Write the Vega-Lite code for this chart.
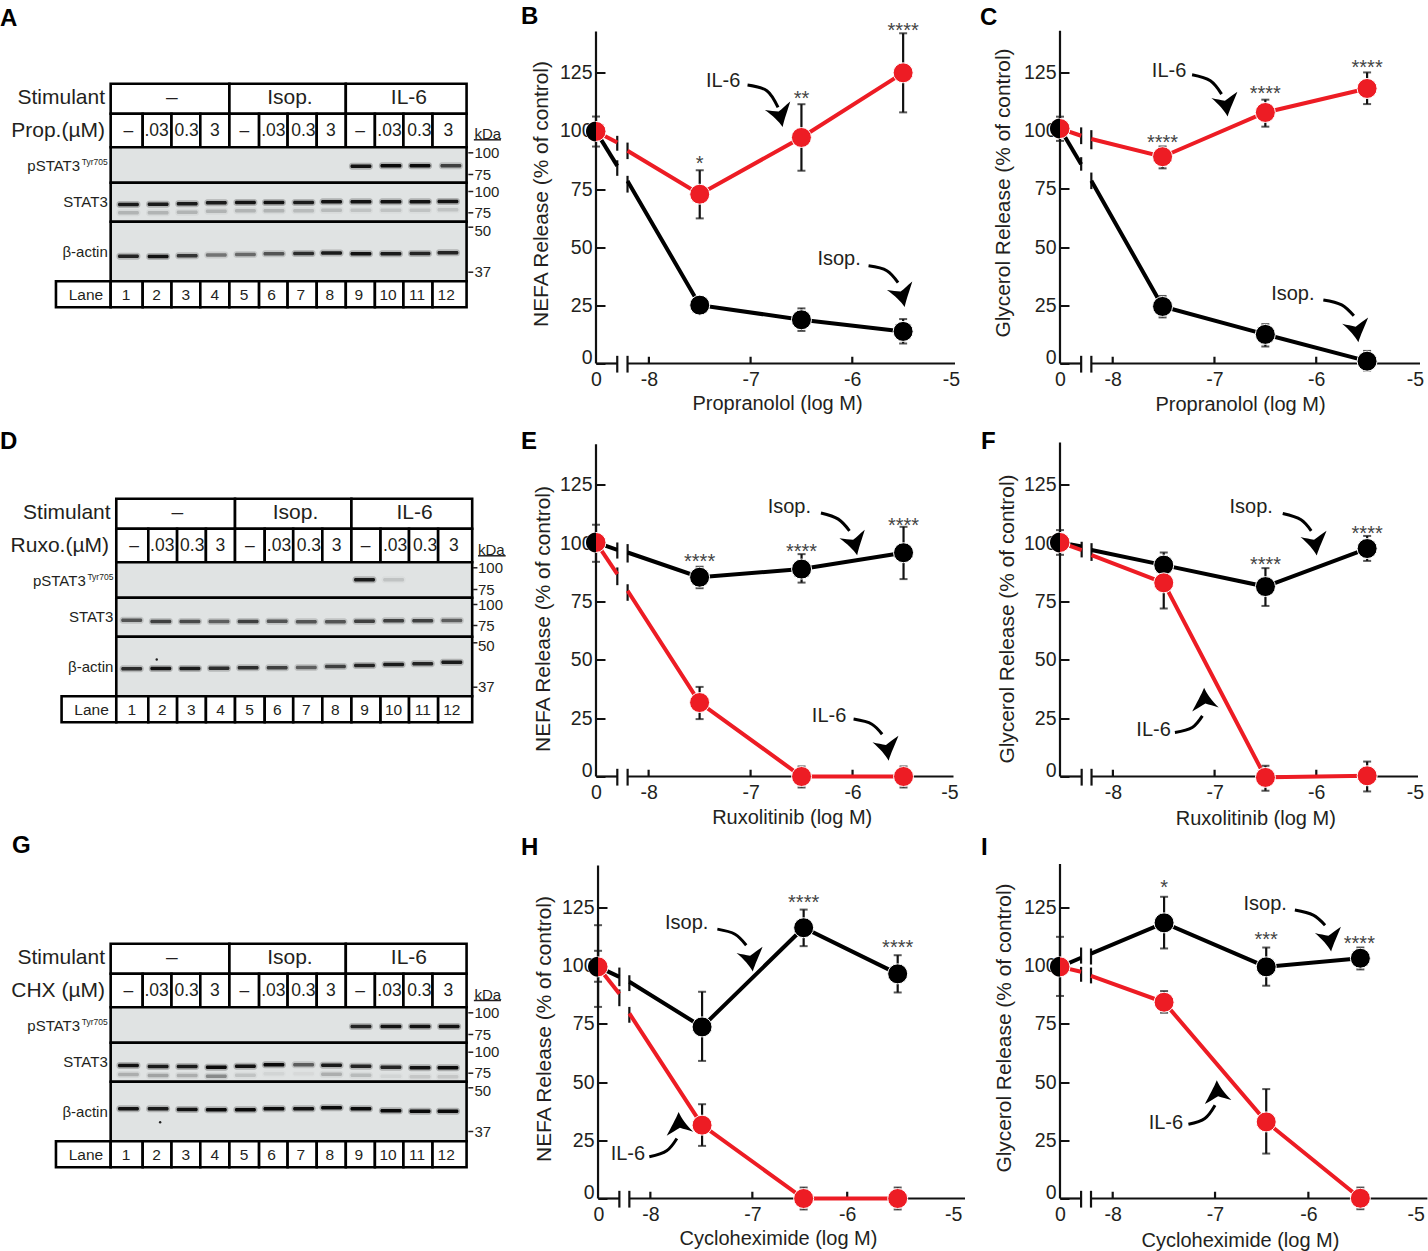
{
  "$schema": "https://vega.github.io/schema/vega-lite/v6.json",
  "background": "white",
  "padding": {"left": 0, "top": 4.5, "right": 0, "bottom": 0},
  "columns": 3,
  "bounds": "flush",
  "spacing": {"row": 70, "column": 95},
  "config": {
    "view": {"stroke": null},
    "axis": {"grid": false, "domain": false, "labelFont": "Liberation Sans", "titleFont": "Liberation Sans", "labelColor": "#231f20", "titleColor": "#231f20", "labelFontSize": 19.5, "titleFontSize": 20, "titleFontWeight": "normal", "labelOverlap": false, "labelFlush": false, "labelBound": false},
    "axisY": {"titleFontSize": 20.9},
    "text": {"font": "Liberation Sans", "color": "#231f20"},
    "title": {"font": "Liberation Sans", "fontSize": 24, "fontWeight": "bold", "color": "#000000", "anchor": "start", "frame": "group", "baseline": "alphabetic"}
  },
  "datasets": {
    "table": [
      {"k":"label","x":0.47,"x2":4.55,"y":0,"y2":30},{"k":"label","x":4.55,"x2":8.55,"y":0,"y2":30},{"k":"label","x":8.55,"x2":12.7,"y":0,"y2":30},
      {"k":"label","x":0.47,"x2":1.57,"y":30,"y2":63.5},{"k":"label","x":1.57,"x2":2.56,"y":30,"y2":63.5},{"k":"label","x":2.56,"x2":3.55,"y":30,"y2":63.5},{"k":"label","x":3.55,"x2":4.55,"y":30,"y2":63.5},
      {"k":"label","x":4.55,"x2":5.57,"y":30,"y2":63.5},{"k":"label","x":5.57,"x2":6.55,"y":30,"y2":63.5},{"k":"label","x":6.55,"x2":7.55,"y":30,"y2":63.5},{"k":"label","x":7.55,"x2":8.55,"y":30,"y2":63.5},
      {"k":"label","x":8.55,"x2":9.55,"y":30,"y2":63.5},{"k":"label","x":9.55,"x2":10.53,"y":30,"y2":63.5},{"k":"label","x":10.53,"x2":11.53,"y":30,"y2":63.5},{"k":"label","x":11.53,"x2":12.7,"y":30,"y2":63.5},
      {"k":"blot","x":0.47,"x2":12.7,"y":63.5,"y2":99},{"k":"blot","x":0.47,"x2":12.7,"y":99,"y2":138},{"k":"blot","x":0.47,"x2":12.7,"y":138,"y2":197.5},
      {"k":"label","x":-1.41,"x2":0.47,"y":197.5,"y2":223.4},
      {"k":"label","x":0.47,"x2":1.57,"y":197.5,"y2":223.4},{"k":"label","x":1.57,"x2":2.56,"y":197.5,"y2":223.4},{"k":"label","x":2.56,"x2":3.55,"y":197.5,"y2":223.4},{"k":"label","x":3.55,"x2":4.55,"y":197.5,"y2":223.4},
      {"k":"label","x":4.55,"x2":5.57,"y":197.5,"y2":223.4},{"k":"label","x":5.57,"x2":6.55,"y":197.5,"y2":223.4},{"k":"label","x":6.55,"x2":7.55,"y":197.5,"y2":223.4},{"k":"label","x":7.55,"x2":8.55,"y":197.5,"y2":223.4},
      {"k":"label","x":8.55,"x2":9.55,"y":197.5,"y2":223.4},{"k":"label","x":9.55,"x2":10.53,"y":197.5,"y2":223.4},{"k":"label","x":10.53,"x2":11.53,"y":197.5,"y2":223.4},{"k":"label","x":11.53,"x2":12.7,"y":197.5,"y2":223.4}
    ],
    "tableText": [
      {"a":"c","c":"head","t":"–","x":2.57,"y":14},{"a":"c","c":"head","t":"Isop.","x":6.63,"y":14},{"a":"c","c":"head","t":"IL-6","x":10.72,"y":14},
      {"a":"c","c":"dose","t":"–","x":1.08,"y":46.7},{"a":"c","c":"dose","t":".03","x":2.05,"y":46.7},{"a":"c","c":"dose","t":"0.3","x":3.08,"y":46.7},{"a":"c","c":"dose","t":"3","x":4.05,"y":46.7},
      {"a":"c","c":"dose","t":"–","x":5.06,"y":46.7},{"a":"c","c":"dose","t":".03","x":6.06,"y":46.7},{"a":"c","c":"dose","t":"0.3","x":7.09,"y":46.7},{"a":"c","c":"dose","t":"3","x":8.04,"y":46.7},
      {"a":"c","c":"dose","t":"–","x":9.04,"y":46.7},{"a":"c","c":"dose","t":".03","x":10.05,"y":46.7},{"a":"c","c":"dose","t":"0.3","x":11.08,"y":46.7},{"a":"c","c":"dose","t":"3","x":12.07,"y":46.7},
      {"a":"c","c":"lane","t":"Lane","x":-0.38,"y":211},
      {"a":"c","c":"lane","t":"1","x":1,"y":211},{"a":"c","c":"lane","t":"2","x":2.05,"y":211},{"a":"c","c":"lane","t":"3","x":3.05,"y":211},{"a":"c","c":"lane","t":"4","x":4.05,"y":211},
      {"a":"c","c":"lane","t":"5","x":5.05,"y":211},{"a":"c","c":"lane","t":"6","x":6,"y":211},{"a":"c","c":"lane","t":"7","x":7,"y":211},{"a":"c","c":"lane","t":"8","x":8,"y":211},
      {"a":"c","c":"lane","t":"9","x":9,"y":211},{"a":"c","c":"lane","t":"10","x":10,"y":211},{"a":"c","c":"lane","t":"11","x":11,"y":211},{"a":"c","c":"lane","t":"12","x":12,"y":211},
      {"a":"r","c":"head","t":"Stimulant","x":0.275,"y":14},
      {"a":"r","c":"name","t":"pSTAT3","x":-0.58,"y":82.4},{"a":"r","c":"sup","t":"Tyr705","x":0.37,"y":78.4},
      {"a":"r","c":"name","t":"STAT3","x":0.37,"y":117.7},{"a":"r","c":"name","t":"β-actin","x":0.37,"y":168.4}
    ],
    "A": [
      {"k":"row2","t":"Prop.(µM)","x":0.275,"y":47},
      {"k":"kda","t":"kDa","x":12.97,"y":50},{"k":"kr","x":12.95,"x2":13.88,"y":56},
      {"k":"kda","t":"100","x":12.97,"y":69},{"k":"kr","x":12.76,"x2":12.93,"y":69},
      {"k":"kda","t":"75","x":12.97,"y":90.7},{"k":"kr","x":12.76,"x2":12.93,"y":90.7},
      {"k":"kda","t":"100","x":12.97,"y":107.7},{"k":"kr","x":12.76,"x2":12.93,"y":107.7},
      {"k":"kda","t":"75","x":12.97,"y":129},{"k":"kr","x":12.76,"x2":12.93,"y":129},
      {"k":"kda","t":"50","x":12.97,"y":146.7},{"k":"kr","x":12.76,"x2":12.93,"y":143.4},
      {"k":"kda","t":"37","x":12.97,"y":188.4},{"k":"kr","x":12.76,"x2":12.93,"y":188.4},
      {"k":"band","x":9.07,"y":82.4,"a":0.95},{"k":"band","x":10.1,"y":82,"a":1},{"k":"band","x":11.1,"y":82,"a":1},{"k":"band","x":12.16,"y":82,"a":0.7},
      {"k":"band","x":1.08,"y":120.7,"a":0.9},{"k":"band","x":2.1,"y":120.5,"a":0.9},{"k":"band","x":3.1,"y":120,"a":0.9},{"k":"band","x":4.1,"y":119,"a":0.9},{"k":"band","x":5.1,"y":118.7,"a":0.95},{"k":"band","x":6.08,"y":118.7,"a":0.95},{"k":"band","x":7.1,"y":118.7,"a":0.9},{"k":"band","x":8.06,"y":118,"a":0.95},{"k":"band","x":9.07,"y":118,"a":0.95},{"k":"band","x":10.1,"y":118,"a":0.95},{"k":"band","x":11.1,"y":118,"a":0.95},{"k":"band","x":12.06,"y":117.7,"a":0.95},
      {"k":"band","x":1.08,"y":129,"a":0.18},{"k":"band","x":2.1,"y":129,"a":0.18},{"k":"band","x":3.1,"y":128.5,"a":0.18},{"k":"band","x":4.1,"y":127.5,"a":0.18},{"k":"band","x":5.1,"y":127,"a":0.18},{"k":"band","x":6.08,"y":127,"a":0.18},{"k":"band","x":7.1,"y":127,"a":0.15},{"k":"band","x":8.06,"y":126.5,"a":0.15},{"k":"band","x":9.07,"y":126.5,"a":0.12},{"k":"band","x":10.1,"y":126.5,"a":0.12},{"k":"band","x":11.1,"y":126.5,"a":0.12},{"k":"band","x":12.06,"y":126,"a":0.12},
      {"k":"band","x":1.08,"y":172.4,"a":0.85},{"k":"band","x":2.1,"y":172.7,"a":0.95},{"k":"band","x":3.1,"y":172,"a":0.75},{"k":"band","x":4.1,"y":171.3,"a":0.45},{"k":"band","x":5.1,"y":170.7,"a":0.5},{"k":"band","x":6.08,"y":170,"a":0.6},{"k":"band","x":7.1,"y":169.7,"a":0.8},{"k":"band","x":8.06,"y":169.3,"a":0.9},{"k":"band","x":9.07,"y":170,"a":0.95},{"k":"band","x":10.1,"y":170,"a":0.9},{"k":"band","x":11.1,"y":169.7,"a":0.85},{"k":"band","x":12.06,"y":169,"a":0.85}
    ],
    "D": [
      {"k":"row2","t":"Ruxo.(µM)","x":0.22,"y":47},
      {"k":"kda","t":"kDa","x":12.9,"y":51},{"k":"kr","x":12.9,"x2":13.85,"y":57},
      {"k":"kda","t":"100","x":12.9,"y":69},{"k":"kr","x":12.73,"x2":12.88,"y":69},
      {"k":"kda","t":"75","x":12.9,"y":90.7},{"k":"kr","x":12.73,"x2":12.88,"y":90.7},
      {"k":"kda","t":"100","x":12.9,"y":105.7},{"k":"kr","x":12.73,"x2":12.88,"y":105.7},
      {"k":"kda","t":"75","x":12.9,"y":126.7},{"k":"kr","x":12.73,"x2":12.88,"y":126.7},
      {"k":"kda","t":"50","x":12.9,"y":147.4},{"k":"kr","x":12.73,"x2":12.88,"y":144},
      {"k":"kda","t":"37","x":12.9,"y":188.4},{"k":"kr","x":12.73,"x2":12.88,"y":188.4},
      {"k":"band","x":9,"y":81,"a":0.9},{"k":"band","x":10,"y":81,"a":0.12},
      {"k":"band","x":1,"y":121.4,"a":0.6},{"k":"band","x":2,"y":122.7,"a":0.7},{"k":"band","x":3,"y":122.7,"a":0.65},{"k":"band","x":4,"y":122.7,"a":0.55},{"k":"band","x":5,"y":122.7,"a":0.7},{"k":"band","x":6,"y":122.4,"a":0.6},{"k":"band","x":7,"y":123,"a":0.6},{"k":"band","x":8,"y":123,"a":0.6},{"k":"band","x":9,"y":122.4,"a":0.7},{"k":"band","x":10,"y":122,"a":0.7},{"k":"band","x":11,"y":122,"a":0.7},{"k":"band","x":12,"y":121.7,"a":0.55},
      {"k":"band","x":1,"y":170,"a":0.8},{"k":"band","x":2,"y":169.7,"a":0.95},{"k":"band","x":3,"y":169.7,"a":0.9},{"k":"band","x":4,"y":169.4,"a":0.8},{"k":"band","x":5,"y":169,"a":0.8},{"k":"band","x":6,"y":169,"a":0.7},{"k":"band","x":7,"y":168.7,"a":0.55},{"k":"band","x":8,"y":167.7,"a":0.7},{"k":"band","x":9,"y":166.7,"a":0.85},{"k":"band","x":10,"y":165.7,"a":0.9},{"k":"band","x":11,"y":165,"a":0.85},{"k":"band","x":12,"y":163.4,"a":0.9},
      {"k":"speck","x":1.86,"y":160.7}
    ],
    "G": [
      {"k":"row2","t":"CHX (µM)","x":0.275,"y":47},
      {"k":"kda","t":"kDa","x":12.97,"y":50.7},{"k":"kr","x":12.95,"x2":13.88,"y":56.7},
      {"k":"kda","t":"100","x":12.97,"y":69},{"k":"kr","x":12.76,"x2":12.93,"y":69},
      {"k":"kda","t":"75","x":12.97,"y":90.7},{"k":"kr","x":12.76,"x2":12.93,"y":90.7},
      {"k":"kda","t":"100","x":12.97,"y":108.4},{"k":"kr","x":12.76,"x2":12.93,"y":108.4},
      {"k":"kda","t":"75","x":12.97,"y":129.4},{"k":"kr","x":12.76,"x2":12.93,"y":129.4},
      {"k":"kda","t":"50","x":12.97,"y":147.4},{"k":"kr","x":12.76,"x2":12.93,"y":144},
      {"k":"kda","t":"37","x":12.97,"y":187.7},{"k":"kr","x":12.76,"x2":12.93,"y":187.7},
      {"k":"band","x":9.07,"y":82.7,"a":0.85},{"k":"band","x":10.1,"y":82.7,"a":0.95},{"k":"band","x":11.1,"y":82.7,"a":0.95},{"k":"band","x":12.1,"y":82.7,"a":0.95},
      {"k":"band","x":1.08,"y":121.7,"a":0.95},{"k":"band","x":2.1,"y":122.7,"a":0.9},{"k":"band","x":3.1,"y":122.7,"a":0.9},{"k":"band","x":4.1,"y":123.4,"a":1},{"k":"band","x":5.1,"y":122.4,"a":0.95},{"k":"band","x":6.08,"y":121,"a":1},{"k":"band","x":7.1,"y":121,"a":0.55},{"k":"band","x":8.06,"y":121.4,"a":0.9},{"k":"band","x":9.07,"y":122.4,"a":0.85},{"k":"band","x":10.1,"y":123.4,"a":0.85},{"k":"band","x":11.1,"y":124,"a":0.95},{"k":"band","x":12.06,"y":124,"a":1},
      {"k":"band","x":1.08,"y":130.7,"a":0.2},{"k":"band","x":2.1,"y":131.7,"a":0.25},{"k":"band","x":3.1,"y":131.7,"a":0.2},{"k":"band","x":4.1,"y":132.4,"a":0.35},{"k":"band","x":5.1,"y":131.4,"a":0.12},{"k":"band","x":6.08,"y":130,"a":0.05},{"k":"band","x":7.1,"y":130,"a":0.03},{"k":"band","x":8.06,"y":130.4,"a":0.2},{"k":"band","x":9.07,"y":131.4,"a":0.15},{"k":"band","x":10.1,"y":132.4,"a":0.05},{"k":"band","x":11.1,"y":133,"a":0.1},{"k":"band","x":12.06,"y":133,"a":0.1},
      {"k":"band","x":1.08,"y":165,"a":0.95},{"k":"band","x":2.1,"y":165,"a":0.9},{"k":"band","x":3.1,"y":165.7,"a":0.95},{"k":"band","x":4.1,"y":166,"a":1},{"k":"band","x":5.1,"y":166,"a":1},{"k":"band","x":6.08,"y":165,"a":1},{"k":"band","x":7.1,"y":165,"a":0.95},{"k":"band","x":8.06,"y":164,"a":1},{"k":"band","x":9.07,"y":165,"a":1},{"k":"band","x":10.1,"y":167,"a":1},{"k":"band","x":11.1,"y":167.4,"a":1},{"k":"band","x":12.06,"y":167.4,"a":1},
      {"k":"speck","x":2.17,"y":178.4}
    ],
    "B": [
      {"k":"v","x":-8.52,"y":0,"y2":142.8},{"k":"v","x":-8,"y":0,"y2":2.9},{"k":"v","x":-7,"y":0,"y2":2.9},{"k":"v","x":-6,"y":0,"y2":2.9},
      {"k":"v","x":-8.311,"y":-3.9,"y2":3.3},{"k":"v","x":-8.21,"y":-3.9,"y2":3.3},
      {"k":"v","x":-8.311,"y":91.5,"y2":97.9},{"k":"v","x":-8.311,"y":80.7,"y2":87.4},{"k":"v","x":-8.21,"y":87.9,"y2":95},{"k":"v","x":-8.21,"y":73.5,"y2":80.7},
      {"k":"h","x":-8.52,"x2":-8.311,"y":0},{"k":"h","x":-8.21,"x2":-4.99,"y":0},
      {"k":"e","x":-8.52,"y":93.3,"y2":106.2},{"k":"e","x":-6.5,"y":14,"y2":23.7},{"k":"e","x":-5.5,"y":8.6,"y2":19.1},
      {"k":"e","x":-7.5,"y":62.4,"y2":83.1},{"k":"e","x":-6.5,"y":82.9,"y2":111.5},{"k":"e","x":-5.5,"y":108,"y2":142},
      {"k":"l","g":"Isop.","s":1,"x":-8.52,"y":99.8},{"k":"l","g":"Isop.","s":1,"x":-8.311,"y":85},
      {"k":"l","g":"Isop.","s":2,"x":-8.21,"y":78.5},{"k":"l","g":"Isop.","s":2,"x":-7.5,"y":25.1},{"k":"l","g":"Isop.","s":2,"x":-6.5,"y":18.8},{"k":"l","g":"Isop.","s":2,"x":-5.5,"y":13.8},
      {"k":"l","g":"IL-6","s":1,"x":-8.52,"y":99.8},{"k":"l","g":"IL-6","s":1,"x":-8.311,"y":95},
      {"k":"l","g":"IL-6","s":2,"x":-8.21,"y":91.5},{"k":"l","g":"IL-6","s":2,"x":-7.5,"y":72.8},{"k":"l","g":"IL-6","s":2,"x":-6.5,"y":97.2},{"k":"l","g":"IL-6","s":2,"x":-5.5,"y":125},
      {"k":"p","g":"Isop.","x":-7.5,"y":25.1},{"k":"p","g":"Isop.","x":-6.5,"y":18.8},{"k":"p","g":"Isop.","x":-5.5,"y":13.8},
      {"k":"p","g":"IL-6","x":-8.52,"y":99.8},{"k":"p","g":"IL-6","x":-7.5,"y":72.8},{"k":"p","g":"IL-6","x":-6.5,"y":97.2},{"k":"p","g":"IL-6","x":-5.5,"y":125},
      {"k":"hb","x":-8.52,"y":99.8},
      {"k":"a","id":1,"x":-7.03,"y":119.8},{"k":"a","id":1,"x":-6.84,"y":117.3},{"k":"a","id":1,"x":-6.73,"y":110.1},
      {"k":"ah","x":-6.72,"y":107.2,"ang":350},
      {"k":"a","id":2,"x":-5.84,"y":42},{"k":"a","id":2,"x":-5.66,"y":39.9},{"k":"a","id":2,"x":-5.55,"y":34.8},
      {"k":"ah","x":-5.52,"y":29.8,"ang":350},
      {"k":"s","t":"*","x":-7.5,"y":88},{"k":"s","t":"**","x":-6.5,"y":116.1},{"k":"s","t":"****","x":-5.5,"y":145.2},
      {"k":"t","t":"IL-6","x":-7.27,"y":121.6},{"k":"t","t":"Isop.","x":-6.13,"y":44.9}
    ],
    "C": [
      {"k":"v","x":-8.518,"y":0,"y2":142.9},{"k":"v","x":-8,"y":0,"y2":2.9},{"k":"v","x":-7,"y":0,"y2":2.9},{"k":"v","x":-6,"y":0,"y2":2.9},
      {"k":"v","x":-8.31,"y":-3.9,"y2":3.3},{"k":"v","x":-8.21,"y":-3.9,"y2":3.3},
      {"k":"v","x":-8.31,"y":94.2,"y2":101.4},{"k":"v","x":-8.31,"y":82.8,"y2":88.6},{"k":"v","x":-8.21,"y":92,"y2":100.2},{"k":"v","x":-8.21,"y":74.9,"y2":82},
      {"k":"h","x":-8.518,"x2":-8.31,"y":0},{"k":"h","x":-8.21,"x2":-4.98,"y":0},
      {"k":"e","x":-8.518,"y":95.6,"y2":106},{"k":"e","x":-7.51,"y":19.8,"y2":29},{"k":"e","x":-6.5,"y":7.3,"y2":16.9},{"k":"e","x":-5.5,"y":-3,"y2":5.4},
      {"k":"e","x":-7.51,"y":83.8,"y2":93.2},{"k":"e","x":-6.5,"y":101.7,"y2":113.3},{"k":"e","x":-5.5,"y":111.4,"y2":125},
      {"k":"l","g":"Isop.","s":1,"x":-8.518,"y":100.9},{"k":"l","g":"Isop.","s":1,"x":-8.31,"y":85.6},
      {"k":"l","g":"Isop.","s":2,"x":-8.21,"y":78.5},{"k":"l","g":"Isop.","s":2,"x":-7.51,"y":24.5},{"k":"l","g":"Isop.","s":2,"x":-6.5,"y":12.5},{"k":"l","g":"Isop.","s":2,"x":-5.5,"y":1},
      {"k":"l","g":"IL-6","s":1,"x":-8.518,"y":100.9},{"k":"l","g":"IL-6","s":1,"x":-8.31,"y":97.8},
      {"k":"l","g":"IL-6","s":2,"x":-8.21,"y":96.4},{"k":"l","g":"IL-6","s":2,"x":-7.51,"y":88.8},{"k":"l","g":"IL-6","s":2,"x":-6.5,"y":107.8},{"k":"l","g":"IL-6","s":2,"x":-5.5,"y":118.1},
      {"k":"p","g":"Isop.","x":-7.51,"y":24.5},{"k":"p","g":"Isop.","x":-6.5,"y":12.5},{"k":"p","g":"Isop.","x":-5.5,"y":1},
      {"k":"p","g":"IL-6","x":-8.518,"y":100.9},{"k":"p","g":"IL-6","x":-7.51,"y":88.8},{"k":"p","g":"IL-6","x":-6.5,"y":107.8},{"k":"p","g":"IL-6","x":-5.5,"y":118.1},
      {"k":"hb","x":-8.518,"y":100.9},
      {"k":"a","id":1,"x":-7.22,"y":124},{"k":"a","id":1,"x":-7.04,"y":121.4},{"k":"a","id":1,"x":-6.93,"y":115.7},
      {"k":"ah","x":-6.895,"y":111.7,"ang":355},
      {"k":"a","id":2,"x":-5.93,"y":27.3},{"k":"a","id":2,"x":-5.75,"y":25.2},{"k":"a","id":2,"x":-5.63,"y":20.5},
      {"k":"ah","x":-5.61,"y":14.7,"ang":355},
      {"k":"s","t":"****","x":-7.51,"y":97.1},{"k":"s","t":"****","x":-6.5,"y":118.1},{"k":"s","t":"****","x":-5.5,"y":129.3},
      {"k":"t","t":"IL-6","x":-7.446,"y":125.4},{"k":"t","t":"Isop.","x":-6.23,"y":29.8}
    ],
    "E": [
      {"k":"v","x":-8.516,"y":0,"y2":142.4},{"k":"v","x":-8,"y":0,"y2":2.9},{"k":"v","x":-7,"y":0,"y2":2.9},{"k":"v","x":-6,"y":0,"y2":2.9},
      {"k":"v","x":-8.307,"y":-3.9,"y2":3.3},{"k":"v","x":-8.206,"y":-3.9,"y2":3.3},
      {"k":"v","x":-8.307,"y":93.4,"y2":100.3},{"k":"v","x":-8.307,"y":82,"y2":89.6},{"k":"v","x":-8.206,"y":91.7,"y2":99.6},{"k":"v","x":-8.206,"y":75.3,"y2":82.4},
      {"k":"h","x":-8.516,"x2":-8.307,"y":0},{"k":"h","x":-8.206,"x2":-5.01,"y":0},
      {"k":"e","x":-8.516,"y":92,"y2":107.9},{"k":"e","x":-7.5,"y":80.7,"y2":89.9},{"k":"e","x":-6.5,"y":83.1,"y2":95.3},{"k":"e","x":-5.5,"y":84.6,"y2":107},
      {"k":"e","x":-7.5,"y":24.6,"y2":38.4},{"k":"e","x":-6.5,"y":-4.7,"y2":4.3},{"k":"e","x":-5.5,"y":-4.7,"y2":4.3},
      {"k":"l","g":"Isop.","s":1,"x":-8.516,"y":100.3},{"k":"l","g":"Isop.","s":1,"x":-8.307,"y":97.1},
      {"k":"l","g":"Isop.","s":2,"x":-8.206,"y":96},{"k":"l","g":"Isop.","s":2,"x":-7.5,"y":85.4},{"k":"l","g":"Isop.","s":2,"x":-6.5,"y":88.9},{"k":"l","g":"Isop.","s":2,"x":-5.5,"y":95.9},
      {"k":"l","g":"IL-6","s":1,"x":-8.516,"y":100.3},{"k":"l","g":"IL-6","s":1,"x":-8.307,"y":86.7},
      {"k":"l","g":"IL-6","s":2,"x":-8.206,"y":79.6},{"k":"l","g":"IL-6","s":2,"x":-7.5,"y":31.7},{"k":"l","g":"IL-6","s":2,"x":-6.5,"y":0},{"k":"l","g":"IL-6","s":2,"x":-5.5,"y":0},
      {"k":"p","g":"Isop.","x":-7.5,"y":85.4},{"k":"p","g":"Isop.","x":-6.5,"y":88.9},{"k":"p","g":"Isop.","x":-5.5,"y":95.9},
      {"k":"p","g":"IL-6","x":-8.516,"y":100.3},{"k":"p","g":"IL-6","x":-7.5,"y":31.7},{"k":"p","g":"IL-6","x":-6.5,"y":0},{"k":"p","g":"IL-6","x":-5.5,"y":0},
      {"k":"hb","x":-8.516,"y":100.3},
      {"k":"a","id":1,"x":-6.31,"y":112.9},{"k":"a","id":1,"x":-6.14,"y":110.3},{"k":"a","id":1,"x":-6.03,"y":105.3},
      {"k":"ah","x":-5.99,"y":100.3,"ang":350},
      {"k":"a","id":2,"x":-5.99,"y":24.6},{"k":"a","id":2,"x":-5.81,"y":22.4},{"k":"a","id":2,"x":-5.71,"y":18.1},
      {"k":"ah","x":-5.67,"y":12.4,"ang":355},
      {"k":"s","t":"****","x":-7.5,"y":94.3},{"k":"s","t":"****","x":-6.5,"y":98.6},{"k":"s","t":"****","x":-5.5,"y":109.6},
      {"k":"t","t":"Isop.","x":-6.62,"y":115.7},{"k":"t","t":"IL-6","x":-6.23,"y":26}
    ],
    "F": [
      {"k":"v","x":-8.52,"y":0,"y2":143.1},{"k":"v","x":-8,"y":0,"y2":2.9},{"k":"v","x":-7,"y":0,"y2":2.9},{"k":"v","x":-6,"y":0,"y2":2.9},
      {"k":"v","x":-8.307,"y":-3.9,"y2":3.3},{"k":"v","x":-8.21,"y":-3.9,"y2":3.3},
      {"k":"v","x":-8.307,"y":93.9,"y2":100.6},{"k":"v","x":-8.21,"y":92.4,"y2":100},
      {"k":"h","x":-8.52,"x2":-8.307,"y":0},{"k":"h","x":-8.21,"x2":-5,"y":0},
      {"k":"e","x":-8.52,"y":95,"y2":105.6},{"k":"e","x":-7.5,"y":85,"y2":96},{"k":"e","x":-6.5,"y":73.1,"y2":89.3},{"k":"e","x":-5.5,"y":92.4,"y2":103.1},
      {"k":"e","x":-7.5,"y":72,"y2":83},{"k":"e","x":-6.5,"y":-6.1,"y2":4.6},{"k":"e","x":-5.5,"y":-6.4,"y2":6.4},
      {"k":"l","g":"Isop.","s":1,"x":-8.52,"y":100.3},{"k":"l","g":"Isop.","s":1,"x":-8.307,"y":98.6},
      {"k":"l","g":"Isop.","s":2,"x":-8.21,"y":97.1},{"k":"l","g":"Isop.","s":2,"x":-7.5,"y":90.6},{"k":"l","g":"Isop.","s":2,"x":-6.5,"y":81.4},{"k":"l","g":"Isop.","s":2,"x":-5.5,"y":97.7},
      {"k":"l","g":"IL-6","s":1,"x":-8.52,"y":100.3},{"k":"l","g":"IL-6","s":1,"x":-8.307,"y":97},
      {"k":"l","g":"IL-6","s":2,"x":-8.21,"y":94.9},{"k":"l","g":"IL-6","s":2,"x":-7.5,"y":83},{"k":"l","g":"IL-6","s":2,"x":-6.5,"y":-0.4},{"k":"l","g":"IL-6","s":2,"x":-5.5,"y":0.3},
      {"k":"p","g":"Isop.","x":-7.5,"y":90.6},{"k":"p","g":"Isop.","x":-6.5,"y":81.4},{"k":"p","g":"Isop.","x":-5.5,"y":97.7},
      {"k":"p","g":"IL-6","x":-8.52,"y":100.3},{"k":"p","g":"IL-6","x":-7.5,"y":83},{"k":"p","g":"IL-6","x":-6.5,"y":-0.4},{"k":"p","g":"IL-6","x":-5.5,"y":0.3},
      {"k":"hb","x":-8.52,"y":100.3},
      {"k":"a","id":1,"x":-6.33,"y":112.7},{"k":"a","id":1,"x":-6.15,"y":110},{"k":"a","id":1,"x":-6.05,"y":105.3},
      {"k":"ah","x":-6.02,"y":100.3,"ang":355},
      {"k":"a","id":2,"x":-7.39,"y":18.9},{"k":"a","id":2,"x":-7.22,"y":21},{"k":"a","id":2,"x":-7.12,"y":26},
      {"k":"ah","x":-7.09,"y":32.4,"ang":180},
      {"k":"s","t":"****","x":-6.5,"y":92.9},{"k":"s","t":"****","x":-5.5,"y":106.4},
      {"k":"t","t":"Isop.","x":-6.64,"y":115.3},{"k":"t","t":"IL-6","x":-7.6,"y":20}
    ],
    "H": [
      {"k":"v","x":-8.513,"y":0,"y2":143},{"k":"v","x":-8,"y":0,"y2":2.9},{"k":"v","x":-7,"y":0,"y2":2.9},{"k":"v","x":-6.07,"y":0,"y2":2.9},
      {"k":"v","x":-8.304,"y":-3.9,"y2":3.3},{"k":"v","x":-8.206,"y":-3.9,"y2":3.3},
      {"k":"v","x":-8.304,"y":91.2,"y2":99.2},{"k":"v","x":-8.304,"y":82.6,"y2":89.8},{"k":"v","x":-8.206,"y":89.1,"y2":95.9},{"k":"v","x":-8.206,"y":75.5,"y2":82.3},
      {"k":"h","x":-8.513,"x2":-8.304,"y":0},{"k":"h","x":-8.206,"x2":-4.915,"y":0},
      {"k":"e","x":-8.513,"y":93.1,"y2":106.4},{"k":"e","x":-7.493,"y":59.1,"y2":88.8},{"k":"e","x":-6.497,"y":108.4,"y2":124.1},{"k":"e","x":-5.575,"y":88.5,"y2":104.5},
      {"k":"e","x":-8.513,"y":82.3,"y2":117.4},{"k":"e","x":-7.493,"y":22.6,"y2":40.5},{"k":"e","x":-6.497,"y":-4.7,"y2":4.7},{"k":"e","x":-5.575,"y":-4.7,"y2":4.7},
      {"k":"l","g":"Isop.","s":1,"x":-8.513,"y":99.5},{"k":"l","g":"Isop.","s":1,"x":-8.304,"y":95.2},
      {"k":"l","g":"Isop.","s":2,"x":-8.206,"y":93.1},{"k":"l","g":"Isop.","s":2,"x":-7.493,"y":73.7},{"k":"l","g":"Isop.","s":2,"x":-6.497,"y":116.3},{"k":"l","g":"Isop.","s":2,"x":-5.575,"y":96.5},
      {"k":"l","g":"IL-6","s":1,"x":-8.513,"y":99.5},{"k":"l","g":"IL-6","s":1,"x":-8.304,"y":88},
      {"k":"l","g":"IL-6","s":2,"x":-8.206,"y":79.5},{"k":"l","g":"IL-6","s":2,"x":-7.493,"y":31.5},{"k":"l","g":"IL-6","s":2,"x":-6.497,"y":0},{"k":"l","g":"IL-6","s":2,"x":-5.575,"y":0},
      {"k":"p","g":"Isop.","x":-7.493,"y":73.7},{"k":"p","g":"Isop.","x":-6.497,"y":116.3},{"k":"p","g":"Isop.","x":-5.575,"y":96.5},
      {"k":"p","g":"IL-6","x":-8.513,"y":99.5},{"k":"p","g":"IL-6","x":-7.493,"y":31.5},{"k":"p","g":"IL-6","x":-6.497,"y":0},{"k":"p","g":"IL-6","x":-5.575,"y":0},
      {"k":"hb","x":-8.513,"y":99.5},
      {"k":"a","id":1,"x":-7.343,"y":115.7},{"k":"a","id":1,"x":-7.17,"y":113.5},{"k":"a","id":1,"x":-7.06,"y":108.8},
      {"k":"ah","x":-7.02,"y":103.1,"ang":355},
      {"k":"a","id":2,"x":-8.01,"y":17.9},{"k":"a","id":2,"x":-7.84,"y":20.5},{"k":"a","id":2,"x":-7.74,"y":25.8},
      {"k":"ah","x":-7.71,"y":31.5,"ang":180},
      {"k":"s","t":"****","x":-6.497,"y":129.3},{"k":"s","t":"****","x":-5.575,"y":109.8},
      {"k":"t","t":"Isop.","x":-7.644,"y":118.4},{"k":"t","t":"IL-6","x":-8.22,"y":19}
    ],
    "I": [
      {"k":"v","x":-8.515,"y":0,"y2":143.7},{"k":"v","x":-8,"y":0,"y2":2.9},{"k":"v","x":-7,"y":0,"y2":2.9},{"k":"v","x":-6.088,"y":0,"y2":2.9},
      {"k":"v","x":-8.309,"y":-3.9,"y2":3.3},{"k":"v","x":-8.212,"y":-3.9,"y2":3.3},
      {"k":"v","x":-8.309,"y":100.9,"y2":107.8},{"k":"v","x":-8.309,"y":93.1,"y2":99.5},{"k":"v","x":-8.212,"y":100.5,"y2":107.4},{"k":"v","x":-8.212,"y":92.4,"y2":99.2},
      {"k":"h","x":-8.515,"x2":-8.309,"y":0},{"k":"h","x":-8.212,"x2":-4.925,"y":0},
      {"k":"e","x":-7.498,"y":107.4,"y2":129.6},{"k":"e","x":-6.5,"y":91.4,"y2":107.8},{"k":"e","x":-5.58,"y":98.4,"y2":107.8},
      {"k":"e","x":-8.515,"y":87,"y2":112.4},{"k":"e","x":-7.498,"y":79.8,"y2":89.1},{"k":"e","x":-6.5,"y":19.3,"y2":47},{"k":"e","x":-5.58,"y":-4.6,"y2":4.7},
      {"k":"l","g":"Isop.","s":1,"x":-8.515,"y":99.5},{"k":"l","g":"Isop.","s":1,"x":-8.309,"y":103.4},
      {"k":"l","g":"Isop.","s":2,"x":-8.212,"y":105.2},{"k":"l","g":"Isop.","s":2,"x":-7.498,"y":118.4},{"k":"l","g":"Isop.","s":2,"x":-6.5,"y":99.5},{"k":"l","g":"Isop.","s":2,"x":-5.58,"y":103.2},
      {"k":"l","g":"IL-6","s":1,"x":-8.515,"y":99.5},{"k":"l","g":"IL-6","s":1,"x":-8.309,"y":97.4},
      {"k":"l","g":"IL-6","s":2,"x":-8.212,"y":95.6},{"k":"l","g":"IL-6","s":2,"x":-7.498,"y":84.3},{"k":"l","g":"IL-6","s":2,"x":-6.5,"y":32.9},{"k":"l","g":"IL-6","s":2,"x":-5.58,"y":0.1},
      {"k":"p","g":"Isop.","x":-7.498,"y":118.4},{"k":"p","g":"Isop.","x":-6.5,"y":99.5},{"k":"p","g":"Isop.","x":-5.58,"y":103.2},
      {"k":"p","g":"IL-6","x":-8.515,"y":99.5},{"k":"p","g":"IL-6","x":-7.498,"y":84.3},{"k":"p","g":"IL-6","x":-6.5,"y":32.9},{"k":"p","g":"IL-6","x":-5.58,"y":0.1},
      {"k":"hb","x":-8.515,"y":99.5},
      {"k":"a","id":1,"x":-6.22,"y":123.9},{"k":"a","id":1,"x":-6.04,"y":121.7},{"k":"a","id":1,"x":-5.925,"y":117.4},
      {"k":"ah","x":-5.89,"y":111.7,"ang":355},
      {"k":"a","id":2,"x":-7.26,"y":31.9},{"k":"a","id":2,"x":-7.1,"y":34.4},{"k":"a","id":2,"x":-7,"y":40.1},
      {"k":"ah","x":-6.97,"y":45.1,"ang":180},
      {"k":"s","t":"*","x":-7.498,"y":135.6},{"k":"s","t":"***","x":-6.5,"y":113.5},{"k":"s","t":"****","x":-5.59,"y":111.7},
      {"k":"t","t":"Isop.","x":-6.51,"y":126.7},{"k":"t","t":"IL-6","x":-7.48,"y":32.6}
    ]
  },
  "concat": [
    {
      "title": {"text": "A", "dx": 0, "offset": 0},
      "width": 501, "height": 333,
      "data": {"name": "A"},
      "resolve": {"scale": {"opacity": "independent"}},
      "encoding": {
        "x": {"field": "x", "type": "quantitative", "scale": {"domain": [-3.333, 13.883], "nice": false, "zero": false}, "axis": null},
        "y": {"field": "y", "type": "quantitative", "scale": {"domain": [279.7, -53.3], "nice": false, "zero": false}, "axis": null}
      },
      "layer": [
        {"data": {"name": "table"}, "mark": {"type": "rect", "stroke": "#000000", "strokeWidth": 2.6}, "encoding": {"x2": {"field": "x2"}, "y2": {"field": "y2"}, "fill": {"field": "k", "type": "nominal", "scale": {"domain": ["label", "blot"], "range": ["#ffffff", "#e0e3e3"]}, "legend": null}}},
        {"transform": [{"filter": "datum.k=='band'"}], "mark": {"type": "tick", "orient": "horizontal", "size": 24, "thickness": 7, "color": "#333333", "cornerRadius": 3}, "encoding": {"opacity": {"field": "a", "type": "quantitative", "scale": {"domain": [0, 1], "range": [0, 0.3]}, "legend": null}}},
        {"transform": [{"filter": "datum.k=='band'"}], "mark": {"type": "tick", "orient": "horizontal", "size": 21, "thickness": 3.5, "color": "#0a0a0a", "cornerRadius": 1.5}, "encoding": {"opacity": {"field": "a", "type": "quantitative", "scale": {"domain": [0, 1], "range": [0, 1]}, "legend": null}}},
        {"transform": [{"filter": "datum.k=='speck'"}], "mark": {"type": "circle", "size": 6, "color": "#222222", "opacity": 1}},
        {"data": {"name": "tableText"}, "transform": [{"filter": "datum.a=='c'"}], "mark": {"type": "text", "align": "center", "baseline": "middle"}, "encoding": {"text": {"field": "t"}, "size": {"field": "c", "type": "nominal", "scale": {"type": "ordinal", "domain": ["head", "dose", "lane", "name", "sup"], "range": [21, 17.5, 15.5, 15, 8.5]}, "legend": null}}},
        {"data": {"name": "tableText"}, "transform": [{"filter": "datum.a=='r'"}], "mark": {"type": "text", "align": "right", "baseline": "middle"}, "encoding": {"text": {"field": "t"}, "size": {"field": "c", "type": "nominal", "scale": {"type": "ordinal", "domain": ["head", "dose", "lane", "name", "sup"], "range": [21, 17.5, 15.5, 15, 8.5]}, "legend": null}}},
        {"transform": [{"filter": "datum.k=='row2'"}], "mark": {"type": "text", "align": "right", "baseline": "middle", "fontSize": 21}, "encoding": {"text": {"field": "t"}}},
        {"transform": [{"filter": "datum.k=='kda'"}], "mark": {"type": "text", "align": "left", "baseline": "middle", "fontSize": 15}, "encoding": {"text": {"field": "t"}}},
        {"transform": [{"filter": "datum.k=='kr'"}], "mark": {"type": "rule", "strokeWidth": 1.5, "color": "#231f20"}, "encoding": {"x2": {"field": "x2"}}}
      ]
    },
    {
      "title": {"text": "B", "dx": -75, "offset": -8},
      "width": 359, "height": 333,
      "data": {"name": "B"},
      "encoding": {
        "x": {"field": "x", "type": "quantitative", "scale": {"domain": [-8.52, -4.99], "nice": false, "zero": false}, "axis": {"title": "Propranolol (log M)", "titleX": 181, "titleY": 40, "titleBaseline": "middle", "values": [-8.52, -8, -7, -6, -5.03], "labelExpr": "datum.value<-8.2?'0':''+round(datum.value)", "ticks": false, "labelPadding": 7}},
        "y": {"field": "y", "type": "quantitative", "scale": {"domain": [0, 143.2], "nice": false, "zero": false}, "axis": {"title": "NEFA Release (% of control)", "titleX": -55, "titleY": 163, "titleBaseline": "middle", "values": [0, 25, 50, 75, 100, 125], "tickSize": -9, "tickWidth": 2, "tickColor": "#111111", "labelPadding": 13, "labelOffset": {"condition": {"test": "datum.value===0", "value": -6.5}, "value": 0}}}
      },
      "layer": [
        {"transform": [{"filter": "datum.k=='v'||datum.k=='e'"}], "mark": {"type": "rule", "strokeWidth": 2.2, "color": "#111111"}, "encoding": {"y2": {"field": "y2"}}},
        {"transform": [{"filter": "datum.k=='h'"}], "mark": {"type": "rule", "strokeWidth": 2.2, "color": "#111111"}, "encoding": {"x2": {"field": "x2"}}},
        {"transform": [{"filter": "datum.k=='e'"}], "mark": {"type": "tick", "orient": "horizontal", "size": 8, "thickness": 2, "color": "#111111"}},
        {"transform": [{"filter": "datum.k=='e'"}], "mark": {"type": "tick", "orient": "horizontal", "size": 8, "thickness": 2, "color": "#111111"}, "encoding": {"y": {"field": "y2", "type": "quantitative"}}},
        {"transform": [{"filter": "datum.k=='l'"}], "mark": {"type": "line", "strokeWidth": 4}, "encoding": {"color": {"field": "g", "type": "nominal", "scale": {"domain": ["IL-6", "Isop."], "range": ["#ed1c24", "#000000"]}, "legend": null}, "detail": {"field": "s"}}},
        {"transform": [{"filter": "datum.k=='p'"}], "mark": {"type": "circle", "size": 400, "opacity": 1, "stroke": "#ffffff", "strokeWidth": 1}, "encoding": {"color": {"field": "g", "type": "nominal", "scale": {"domain": ["IL-6", "Isop."], "range": ["#ed1c24", "#000000"]}, "legend": null}}},
        {"transform": [{"filter": "datum.k=='hb'"}], "mark": {"type": "point", "shape": "M0,-1 A1,1 0 0 0 0,1 Z", "size": 400, "filled": true, "opacity": 1, "color": "#000000"}},
        {"transform": [{"filter": "datum.k=='a'"}], "mark": {"type": "line", "interpolate": "catmull-rom", "strokeWidth": 3, "color": "#000000"}, "encoding": {"detail": {"field": "id"}}},
        {"transform": [{"filter": "datum.k=='ah'"}], "mark": {"type": "point", "shape": "M0.1,1 C-0.1,0.55 -0.5,0 -1,-0.5 C-0.6,-0.35 -0.3,-0.3 0,-0.2 C0.3,-0.35 0.6,-0.6 1,-0.8 C0.7,-0.2 0.3,0.5 0.1,1 Z", "size": 700, "filled": true, "opacity": 1, "color": "#000000"}, "encoding": {"angle": {"field": "ang", "type": "quantitative", "scale": null}}},
        {"transform": [{"filter": "datum.k=='s'"}], "mark": {"type": "text", "fontSize": 20, "baseline": "alphabetic", "dy": 11.6, "color": "#444444"}, "encoding": {"text": {"field": "t"}}},
        {"transform": [{"filter": "datum.k=='t'"}], "mark": {"type": "text", "fontSize": 20, "baseline": "middle"}, "encoding": {"text": {"field": "t"}}}
      ]
    },
    {
      "title": {"text": "C", "dx": -80, "offset": 0},
      "width": 360, "height": 333,
      "data": {"name": "C"},
      "encoding": {
        "x": {"field": "x", "type": "quantitative", "scale": {"domain": [-8.518, -4.98], "nice": false, "zero": false}, "axis": {"title": "Propranolol (log M)", "titleX": 180, "titleY": 41, "titleBaseline": "middle", "values": [-8.518, -8, -7, -6, -5.03], "labelExpr": "datum.value<-8.2?'0':''+round(datum.value)", "ticks": false, "labelPadding": 7}},
        "y": {"field": "y", "type": "quantitative", "scale": {"domain": [0, 143], "nice": false, "zero": false}, "axis": {"title": "Glycerol Release (% of control)", "titleX": -57, "titleY": 162, "titleBaseline": "middle", "values": [0, 25, 50, 75, 100, 125], "tickSize": -9, "tickWidth": 2, "tickColor": "#111111", "labelPadding": 13, "labelOffset": {"condition": {"test": "datum.value===0", "value": -6.5}, "value": 0}}}
      },
      "layer": [
        {"transform": [{"filter": "datum.k=='v'||datum.k=='e'"}], "mark": {"type": "rule", "strokeWidth": 2.2, "color": "#111111"}, "encoding": {"y2": {"field": "y2"}}},
        {"transform": [{"filter": "datum.k=='h'"}], "mark": {"type": "rule", "strokeWidth": 2.2, "color": "#111111"}, "encoding": {"x2": {"field": "x2"}}},
        {"transform": [{"filter": "datum.k=='e'"}], "mark": {"type": "tick", "orient": "horizontal", "size": 8, "thickness": 2, "color": "#111111"}},
        {"transform": [{"filter": "datum.k=='e'"}], "mark": {"type": "tick", "orient": "horizontal", "size": 8, "thickness": 2, "color": "#111111"}, "encoding": {"y": {"field": "y2", "type": "quantitative"}}},
        {"transform": [{"filter": "datum.k=='l'"}], "mark": {"type": "line", "strokeWidth": 4}, "encoding": {"color": {"field": "g", "type": "nominal", "scale": {"domain": ["IL-6", "Isop."], "range": ["#ed1c24", "#000000"]}, "legend": null}, "detail": {"field": "s"}}},
        {"transform": [{"filter": "datum.k=='p'"}], "mark": {"type": "circle", "size": 400, "opacity": 1, "stroke": "#ffffff", "strokeWidth": 1}, "encoding": {"color": {"field": "g", "type": "nominal", "scale": {"domain": ["IL-6", "Isop."], "range": ["#ed1c24", "#000000"]}, "legend": null}}},
        {"transform": [{"filter": "datum.k=='hb'"}], "mark": {"type": "point", "shape": "M0,-1 A1,1 0 0 0 0,1 Z", "size": 400, "filled": true, "opacity": 1, "color": "#000000"}},
        {"transform": [{"filter": "datum.k=='a'"}], "mark": {"type": "line", "interpolate": "catmull-rom", "strokeWidth": 3, "color": "#000000"}, "encoding": {"detail": {"field": "id"}}},
        {"transform": [{"filter": "datum.k=='ah'"}], "mark": {"type": "point", "shape": "M0.1,1 C-0.1,0.55 -0.5,0 -1,-0.5 C-0.6,-0.35 -0.3,-0.3 0,-0.2 C0.3,-0.35 0.6,-0.6 1,-0.8 C0.7,-0.2 0.3,0.5 0.1,1 Z", "size": 700, "filled": true, "opacity": 1, "color": "#000000"}, "encoding": {"angle": {"field": "ang", "type": "quantitative", "scale": null}}},
        {"transform": [{"filter": "datum.k=='s'"}], "mark": {"type": "text", "fontSize": 20, "baseline": "alphabetic", "dy": 11.6, "color": "#444444"}, "encoding": {"text": {"field": "t"}}},
        {"transform": [{"filter": "datum.k=='t'"}], "mark": {"type": "text", "fontSize": 20, "baseline": "middle"}, "encoding": {"text": {"field": "t"}}}
      ]
    },
    {
      "title": {"text": "D", "dx": 0, "offset": -20},
      "width": 501, "height": 343,
      "data": {"name": "D"},
      "resolve": {"scale": {"opacity": "independent"}},
      "encoding": {
        "x": {"field": "x", "type": "quantitative", "scale": {"domain": [-3.526, 13.69], "nice": false, "zero": false}, "axis": null},
        "y": {"field": "y", "type": "quantitative", "scale": {"domain": [277.7, -65.3], "nice": false, "zero": false}, "axis": null}
      },
      "layer": [
        {"data": {"name": "table"}, "mark": {"type": "rect", "stroke": "#000000", "strokeWidth": 2.6}, "encoding": {"x2": {"field": "x2"}, "y2": {"field": "y2"}, "fill": {"field": "k", "type": "nominal", "scale": {"domain": ["label", "blot"], "range": ["#ffffff", "#e0e3e3"]}, "legend": null}}},
        {"transform": [{"filter": "datum.k=='band'"}], "mark": {"type": "tick", "orient": "horizontal", "size": 24, "thickness": 7, "color": "#333333", "cornerRadius": 3}, "encoding": {"opacity": {"field": "a", "type": "quantitative", "scale": {"domain": [0, 1], "range": [0, 0.3]}, "legend": null}}},
        {"transform": [{"filter": "datum.k=='band'"}], "mark": {"type": "tick", "orient": "horizontal", "size": 21, "thickness": 3.5, "color": "#0a0a0a", "cornerRadius": 1.5}, "encoding": {"opacity": {"field": "a", "type": "quantitative", "scale": {"domain": [0, 1], "range": [0, 1]}, "legend": null}}},
        {"transform": [{"filter": "datum.k=='speck'"}], "mark": {"type": "circle", "size": 6, "color": "#222222", "opacity": 1}},
        {"data": {"name": "tableText"}, "transform": [{"filter": "datum.a=='c'"}], "mark": {"type": "text", "align": "center", "baseline": "middle"}, "encoding": {"text": {"field": "t"}, "size": {"field": "c", "type": "nominal", "scale": {"type": "ordinal", "domain": ["head", "dose", "lane", "name", "sup"], "range": [21, 17.5, 15.5, 15, 8.5]}, "legend": null}}},
        {"data": {"name": "tableText"}, "transform": [{"filter": "datum.a=='r'"}], "mark": {"type": "text", "align": "right", "baseline": "middle"}, "encoding": {"text": {"field": "t"}, "size": {"field": "c", "type": "nominal", "scale": {"type": "ordinal", "domain": ["head", "dose", "lane", "name", "sup"], "range": [21, 17.5, 15.5, 15, 8.5]}, "legend": null}}},
        {"transform": [{"filter": "datum.k=='row2'"}], "mark": {"type": "text", "align": "right", "baseline": "middle", "fontSize": 21}, "encoding": {"text": {"field": "t"}}},
        {"transform": [{"filter": "datum.k=='kda'"}], "mark": {"type": "text", "align": "left", "baseline": "middle", "fontSize": 15}, "encoding": {"text": {"field": "t"}}},
        {"transform": [{"filter": "datum.k=='kr'"}], "mark": {"type": "rule", "strokeWidth": 1.5, "color": "#231f20"}, "encoding": {"x2": {"field": "x2"}}}
      ]
    },
    {
      "title": {"text": "E", "dx": -75, "offset": -20},
      "width": 357.5, "height": 343,
      "data": {"name": "E"},
      "encoding": {
        "x": {"field": "x", "type": "quantitative", "scale": {"domain": [-8.516, -5.01], "nice": false, "zero": false}, "axis": {"title": "Ruxolitinib (log M)", "titleX": 195.7, "titleY": 41, "titleBaseline": "middle", "values": [-8.516, -8, -7, -6, -5.05], "labelExpr": "datum.value<-8.2?'0':''+round(datum.value)", "ticks": false, "labelPadding": 7}},
        "y": {"field": "y", "type": "quantitative", "scale": {"domain": [0, 147], "nice": false, "zero": false}, "axis": {"title": "NEFA Release (% of control)", "titleX": -53, "titleY": 185, "titleBaseline": "middle", "values": [0, 25, 50, 75, 100, 125], "tickSize": -9, "tickWidth": 2, "tickColor": "#111111", "labelPadding": 13, "labelOffset": {"condition": {"test": "datum.value===0", "value": -6.5}, "value": 0}}}
      },
      "layer": [
        {"transform": [{"filter": "datum.k=='v'||datum.k=='e'"}], "mark": {"type": "rule", "strokeWidth": 2.2, "color": "#111111"}, "encoding": {"y2": {"field": "y2"}}},
        {"transform": [{"filter": "datum.k=='h'"}], "mark": {"type": "rule", "strokeWidth": 2.2, "color": "#111111"}, "encoding": {"x2": {"field": "x2"}}},
        {"transform": [{"filter": "datum.k=='e'"}], "mark": {"type": "tick", "orient": "horizontal", "size": 8, "thickness": 2, "color": "#111111"}},
        {"transform": [{"filter": "datum.k=='e'"}], "mark": {"type": "tick", "orient": "horizontal", "size": 8, "thickness": 2, "color": "#111111"}, "encoding": {"y": {"field": "y2", "type": "quantitative"}}},
        {"transform": [{"filter": "datum.k=='l'"}], "mark": {"type": "line", "strokeWidth": 4}, "encoding": {"color": {"field": "g", "type": "nominal", "scale": {"domain": ["IL-6", "Isop."], "range": ["#ed1c24", "#000000"]}, "legend": null}, "detail": {"field": "s"}}},
        {"transform": [{"filter": "datum.k=='p'"}], "mark": {"type": "circle", "size": 400, "opacity": 1, "stroke": "#ffffff", "strokeWidth": 1}, "encoding": {"color": {"field": "g", "type": "nominal", "scale": {"domain": ["IL-6", "Isop."], "range": ["#ed1c24", "#000000"]}, "legend": null}}},
        {"transform": [{"filter": "datum.k=='hb'"}], "mark": {"type": "point", "shape": "M0,-1 A1,1 0 0 0 0,1 Z", "size": 400, "filled": true, "opacity": 1, "color": "#000000"}},
        {"transform": [{"filter": "datum.k=='a'"}], "mark": {"type": "line", "interpolate": "catmull-rom", "strokeWidth": 3, "color": "#000000"}, "encoding": {"detail": {"field": "id"}}},
        {"transform": [{"filter": "datum.k=='ah'"}], "mark": {"type": "point", "shape": "M0.1,1 C-0.1,0.55 -0.5,0 -1,-0.5 C-0.6,-0.35 -0.3,-0.3 0,-0.2 C0.3,-0.35 0.6,-0.6 1,-0.8 C0.7,-0.2 0.3,0.5 0.1,1 Z", "size": 700, "filled": true, "opacity": 1, "color": "#000000"}, "encoding": {"angle": {"field": "ang", "type": "quantitative", "scale": null}}},
        {"transform": [{"filter": "datum.k=='s'"}], "mark": {"type": "text", "fontSize": 20, "baseline": "alphabetic", "dy": 11.6, "color": "#444444"}, "encoding": {"text": {"field": "t"}}},
        {"transform": [{"filter": "datum.k=='t'"}], "mark": {"type": "text", "fontSize": 20, "baseline": "middle"}, "encoding": {"text": {"field": "t"}}}
      ]
    },
    {
      "title": {"text": "F", "dx": -79, "offset": -20},
      "width": 358, "height": 343,
      "data": {"name": "F"},
      "encoding": {
        "x": {"field": "x", "type": "quantitative", "scale": {"domain": [-8.52, -5], "nice": false, "zero": false}, "axis": {"title": "Ruxolitinib (log M)", "titleX": 195.3, "titleY": 41.7, "titleBaseline": "middle", "values": [-8, -7, -6, -5.03], "labelExpr": "''+round(datum.value)", "ticks": false, "labelPadding": 7}},
        "y": {"field": "y", "type": "quantitative", "scale": {"domain": [0, 147], "nice": false, "zero": false}, "axis": {"title": "Glycerol Release (% of control)", "titleX": -53, "titleY": 185, "titleBaseline": "middle", "values": [0, 25, 50, 75, 100, 125], "tickSize": -9, "tickWidth": 2, "tickColor": "#111111", "labelPadding": 13, "labelOffset": {"condition": {"test": "datum.value===0", "value": -6.5}, "value": 0}}}
      },
      "layer": [
        {"transform": [{"filter": "datum.k=='v'||datum.k=='e'"}], "mark": {"type": "rule", "strokeWidth": 2.2, "color": "#111111"}, "encoding": {"y2": {"field": "y2"}}},
        {"transform": [{"filter": "datum.k=='h'"}], "mark": {"type": "rule", "strokeWidth": 2.2, "color": "#111111"}, "encoding": {"x2": {"field": "x2"}}},
        {"transform": [{"filter": "datum.k=='e'"}], "mark": {"type": "tick", "orient": "horizontal", "size": 8, "thickness": 2, "color": "#111111"}},
        {"transform": [{"filter": "datum.k=='e'"}], "mark": {"type": "tick", "orient": "horizontal", "size": 8, "thickness": 2, "color": "#111111"}, "encoding": {"y": {"field": "y2", "type": "quantitative"}}},
        {"transform": [{"filter": "datum.k=='l'"}], "mark": {"type": "line", "strokeWidth": 4}, "encoding": {"color": {"field": "g", "type": "nominal", "scale": {"domain": ["IL-6", "Isop."], "range": ["#ed1c24", "#000000"]}, "legend": null}, "detail": {"field": "s"}}},
        {"transform": [{"filter": "datum.k=='p'"}], "mark": {"type": "circle", "size": 400, "opacity": 1, "stroke": "#ffffff", "strokeWidth": 1}, "encoding": {"color": {"field": "g", "type": "nominal", "scale": {"domain": ["IL-6", "Isop."], "range": ["#ed1c24", "#000000"]}, "legend": null}}},
        {"transform": [{"filter": "datum.k=='hb'"}], "mark": {"type": "point", "shape": "M0,-1 A1,1 0 0 0 0,1 Z", "size": 400, "filled": true, "opacity": 1, "color": "#000000"}},
        {"transform": [{"filter": "datum.k=='a'"}], "mark": {"type": "line", "interpolate": "catmull-rom", "strokeWidth": 3, "color": "#000000"}, "encoding": {"detail": {"field": "id"}}},
        {"transform": [{"filter": "datum.k=='ah'"}], "mark": {"type": "point", "shape": "M0.1,1 C-0.1,0.55 -0.5,0 -1,-0.5 C-0.6,-0.35 -0.3,-0.3 0,-0.2 C0.3,-0.35 0.6,-0.6 1,-0.8 C0.7,-0.2 0.3,0.5 0.1,1 Z", "size": 700, "filled": true, "opacity": 1, "color": "#000000"}, "encoding": {"angle": {"field": "ang", "type": "quantitative", "scale": null}}},
        {"transform": [{"filter": "datum.k=='s'"}], "mark": {"type": "text", "fontSize": 20, "baseline": "alphabetic", "dy": 11.6, "color": "#444444"}, "encoding": {"text": {"field": "t"}}},
        {"transform": [{"filter": "datum.k=='t'"}], "mark": {"type": "text", "fontSize": 20, "baseline": "middle"}, "encoding": {"text": {"field": "t"}}}
      ]
    },
    {
      "title": {"text": "G", "dx": 12, "offset": -11},
      "width": 501, "height": 352,
      "data": {"name": "G"},
      "resolve": {"scale": {"opacity": "independent"}},
      "encoding": {
        "x": {"field": "x", "type": "quantitative", "scale": {"domain": [-3.333, 13.883], "nice": false, "zero": false}, "axis": null},
        "y": {"field": "y", "type": "quantitative", "scale": {"domain": [254.7, -97.3], "nice": false, "zero": false}, "axis": null}
      },
      "layer": [
        {"data": {"name": "table"}, "mark": {"type": "rect", "stroke": "#000000", "strokeWidth": 2.6}, "encoding": {"x2": {"field": "x2"}, "y2": {"field": "y2"}, "fill": {"field": "k", "type": "nominal", "scale": {"domain": ["label", "blot"], "range": ["#ffffff", "#e0e3e3"]}, "legend": null}}},
        {"transform": [{"filter": "datum.k=='band'"}], "mark": {"type": "tick", "orient": "horizontal", "size": 24, "thickness": 7, "color": "#333333", "cornerRadius": 3}, "encoding": {"opacity": {"field": "a", "type": "quantitative", "scale": {"domain": [0, 1], "range": [0, 0.3]}, "legend": null}}},
        {"transform": [{"filter": "datum.k=='band'"}], "mark": {"type": "tick", "orient": "horizontal", "size": 21, "thickness": 3.5, "color": "#0a0a0a", "cornerRadius": 1.5}, "encoding": {"opacity": {"field": "a", "type": "quantitative", "scale": {"domain": [0, 1], "range": [0, 1]}, "legend": null}}},
        {"transform": [{"filter": "datum.k=='speck'"}], "mark": {"type": "circle", "size": 6, "color": "#222222", "opacity": 1}},
        {"data": {"name": "tableText"}, "transform": [{"filter": "datum.a=='c'"}], "mark": {"type": "text", "align": "center", "baseline": "middle"}, "encoding": {"text": {"field": "t"}, "size": {"field": "c", "type": "nominal", "scale": {"type": "ordinal", "domain": ["head", "dose", "lane", "name", "sup"], "range": [21, 17.5, 15.5, 15, 8.5]}, "legend": null}}},
        {"data": {"name": "tableText"}, "transform": [{"filter": "datum.a=='r'"}], "mark": {"type": "text", "align": "right", "baseline": "middle"}, "encoding": {"text": {"field": "t"}, "size": {"field": "c", "type": "nominal", "scale": {"type": "ordinal", "domain": ["head", "dose", "lane", "name", "sup"], "range": [21, 17.5, 15.5, 15, 8.5]}, "legend": null}}},
        {"transform": [{"filter": "datum.k=='row2'"}], "mark": {"type": "text", "align": "right", "baseline": "middle", "fontSize": 21}, "encoding": {"text": {"field": "t"}}},
        {"transform": [{"filter": "datum.k=='kda'"}], "mark": {"type": "text", "align": "left", "baseline": "middle", "fontSize": 15}, "encoding": {"text": {"field": "t"}}},
        {"transform": [{"filter": "datum.k=='kr'"}], "mark": {"type": "rule", "strokeWidth": 1.5, "color": "#231f20"}, "encoding": {"x2": {"field": "x2"}}}
      ]
    },
    {
      "title": {"text": "H", "dx": -75, "offset": -13},
      "width": 369, "height": 352,
      "data": {"name": "H"},
      "encoding": {
        "x": {"field": "x", "type": "quantitative", "scale": {"domain": [-8.533, -4.915], "nice": false, "zero": false}, "axis": {"title": "Cycloheximide (log M)", "titleX": 182, "titleY": 40, "titleBaseline": "middle", "values": [-8.51, -8, -7, -6.07, -5.03], "labelExpr": "datum.value<-8.2?'0':''+round(datum.value)", "ticks": false, "labelPadding": 7}},
        "y": {"field": "y", "type": "quantitative", "scale": {"domain": [0, 151.2], "nice": false, "zero": false}, "axis": {"title": "NEFA Release (% of control)", "titleX": -54, "titleY": 182, "titleBaseline": "middle", "offset": -2, "values": [0, 25, 50, 75, 100, 125], "tickSize": -9, "tickWidth": 2, "tickColor": "#111111", "labelPadding": 13, "labelOffset": {"condition": {"test": "datum.value===0", "value": -6.5}, "value": 0}}}
      },
      "layer": [
        {"transform": [{"filter": "datum.k=='v'||datum.k=='e'"}], "mark": {"type": "rule", "strokeWidth": 2.2, "color": "#111111"}, "encoding": {"y2": {"field": "y2"}}},
        {"transform": [{"filter": "datum.k=='h'"}], "mark": {"type": "rule", "strokeWidth": 2.2, "color": "#111111"}, "encoding": {"x2": {"field": "x2"}}},
        {"transform": [{"filter": "datum.k=='e'"}], "mark": {"type": "tick", "orient": "horizontal", "size": 8, "thickness": 2, "color": "#111111"}},
        {"transform": [{"filter": "datum.k=='e'"}], "mark": {"type": "tick", "orient": "horizontal", "size": 8, "thickness": 2, "color": "#111111"}, "encoding": {"y": {"field": "y2", "type": "quantitative"}}},
        {"transform": [{"filter": "datum.k=='l'"}], "mark": {"type": "line", "strokeWidth": 4}, "encoding": {"color": {"field": "g", "type": "nominal", "scale": {"domain": ["IL-6", "Isop."], "range": ["#ed1c24", "#000000"]}, "legend": null}, "detail": {"field": "s"}}},
        {"transform": [{"filter": "datum.k=='p'"}], "mark": {"type": "circle", "size": 400, "opacity": 1, "stroke": "#ffffff", "strokeWidth": 1}, "encoding": {"color": {"field": "g", "type": "nominal", "scale": {"domain": ["IL-6", "Isop."], "range": ["#ed1c24", "#000000"]}, "legend": null}}},
        {"transform": [{"filter": "datum.k=='hb'"}], "mark": {"type": "point", "shape": "M0,-1 A1,1 0 0 0 0,1 Z", "size": 400, "filled": true, "opacity": 1, "color": "#000000"}},
        {"transform": [{"filter": "datum.k=='a'"}], "mark": {"type": "line", "interpolate": "catmull-rom", "strokeWidth": 3, "color": "#000000"}, "encoding": {"detail": {"field": "id"}}},
        {"transform": [{"filter": "datum.k=='ah'"}], "mark": {"type": "point", "shape": "M0.1,1 C-0.1,0.55 -0.5,0 -1,-0.5 C-0.6,-0.35 -0.3,-0.3 0,-0.2 C0.3,-0.35 0.6,-0.6 1,-0.8 C0.7,-0.2 0.3,0.5 0.1,1 Z", "size": 700, "filled": true, "opacity": 1, "color": "#000000"}, "encoding": {"angle": {"field": "ang", "type": "quantitative", "scale": null}}},
        {"transform": [{"filter": "datum.k=='s'"}], "mark": {"type": "text", "fontSize": 20, "baseline": "alphabetic", "dy": 11.6, "color": "#444444"}, "encoding": {"text": {"field": "t"}}},
        {"transform": [{"filter": "datum.k=='t'"}], "mark": {"type": "text", "fontSize": 20, "baseline": "middle"}, "encoding": {"text": {"field": "t"}}}
      ]
    },
    {
      "title": {"text": "I", "dx": -79, "offset": -13},
      "width": 367.4, "height": 352,
      "data": {"name": "I"},
      "encoding": {
        "x": {"field": "x", "type": "quantitative", "scale": {"domain": [-8.515, -4.925], "nice": false, "zero": false}, "axis": {"title": "Cycloheximide (log M)", "titleX": 180, "titleY": 42, "titleBaseline": "middle", "values": [-8.515, -8, -7, -6.088, -5.04], "labelExpr": "datum.value<-8.2?'0':''+round(datum.value)", "ticks": false, "labelPadding": 7}},
        "y": {"field": "y", "type": "quantitative", "scale": {"domain": [0, 151.2], "nice": false, "zero": false}, "axis": {"title": "Glycerol Release (% of control)", "titleX": -56, "titleY": 181, "titleBaseline": "middle", "values": [0, 25, 50, 75, 100, 125], "tickSize": -9, "tickWidth": 2, "tickColor": "#111111", "labelPadding": 13, "labelOffset": {"condition": {"test": "datum.value===0", "value": -6.5}, "value": 0}}}
      },
      "layer": [
        {"transform": [{"filter": "datum.k=='v'||datum.k=='e'"}], "mark": {"type": "rule", "strokeWidth": 2.2, "color": "#111111"}, "encoding": {"y2": {"field": "y2"}}},
        {"transform": [{"filter": "datum.k=='h'"}], "mark": {"type": "rule", "strokeWidth": 2.2, "color": "#111111"}, "encoding": {"x2": {"field": "x2"}}},
        {"transform": [{"filter": "datum.k=='e'"}], "mark": {"type": "tick", "orient": "horizontal", "size": 8, "thickness": 2, "color": "#111111"}},
        {"transform": [{"filter": "datum.k=='e'"}], "mark": {"type": "tick", "orient": "horizontal", "size": 8, "thickness": 2, "color": "#111111"}, "encoding": {"y": {"field": "y2", "type": "quantitative"}}},
        {"transform": [{"filter": "datum.k=='l'"}], "mark": {"type": "line", "strokeWidth": 4}, "encoding": {"color": {"field": "g", "type": "nominal", "scale": {"domain": ["IL-6", "Isop."], "range": ["#ed1c24", "#000000"]}, "legend": null}, "detail": {"field": "s"}}},
        {"transform": [{"filter": "datum.k=='p'"}], "mark": {"type": "circle", "size": 400, "opacity": 1, "stroke": "#ffffff", "strokeWidth": 1}, "encoding": {"color": {"field": "g", "type": "nominal", "scale": {"domain": ["IL-6", "Isop."], "range": ["#ed1c24", "#000000"]}, "legend": null}}},
        {"transform": [{"filter": "datum.k=='hb'"}], "mark": {"type": "point", "shape": "M0,-1 A1,1 0 0 0 0,1 Z", "size": 400, "filled": true, "opacity": 1, "color": "#000000"}},
        {"transform": [{"filter": "datum.k=='a'"}], "mark": {"type": "line", "interpolate": "catmull-rom", "strokeWidth": 3, "color": "#000000"}, "encoding": {"detail": {"field": "id"}}},
        {"transform": [{"filter": "datum.k=='ah'"}], "mark": {"type": "point", "shape": "M0.1,1 C-0.1,0.55 -0.5,0 -1,-0.5 C-0.6,-0.35 -0.3,-0.3 0,-0.2 C0.3,-0.35 0.6,-0.6 1,-0.8 C0.7,-0.2 0.3,0.5 0.1,1 Z", "size": 700, "filled": true, "opacity": 1, "color": "#000000"}, "encoding": {"angle": {"field": "ang", "type": "quantitative", "scale": null}}},
        {"transform": [{"filter": "datum.k=='s'"}], "mark": {"type": "text", "fontSize": 20, "baseline": "alphabetic", "dy": 11.6, "color": "#444444"}, "encoding": {"text": {"field": "t"}}},
        {"transform": [{"filter": "datum.k=='t'"}], "mark": {"type": "text", "fontSize": 20, "baseline": "middle"}, "encoding": {"text": {"field": "t"}}}
      ]
    }
  ]
}
